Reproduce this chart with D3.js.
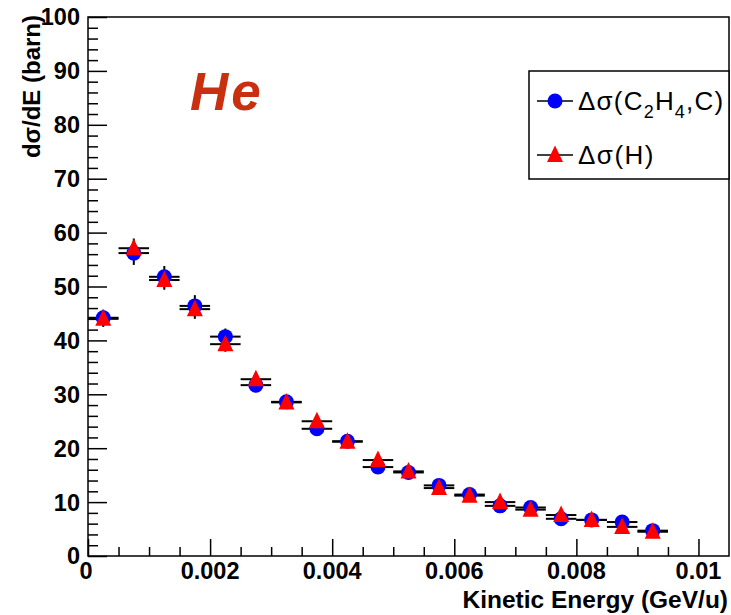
<!DOCTYPE html>
<html>
<head>
<meta charset="utf-8">
<script src="https://cdn.jsdelivr.net/npm/d3@7"></script>
<style>
  html, body { margin: 0; padding: 0; background: #fff; }
  svg { display: block; font-family: "Liberation Sans", Arial, Helvetica, sans-serif; }
</style>
</head>
<body>
<svg id="chart" width="731" height="615"></svg>
<script>
// Kinetic-energy bin centres (GeV/u), bin width 0.0005
const energy = [0.00025, 0.00075, 0.00125, 0.00175, 0.00225, 0.00275, 0.00325, 0.00375,
                0.00425, 0.00475, 0.00525, 0.00575, 0.00625, 0.00675, 0.00725, 0.00775,
                0.00825, 0.00875, 0.00925];
const binHalfWidth = 0.00025;

// Δσ(C2H4,C) and its errors (barn)
const sigmaCH = [44.2, 56.2, 51.8, 46.4, 40.7, 31.7, 28.6, 23.6, 21.3, 16.5,
                 15.5, 13.1, 11.4, 9.3, 9.0, 6.9, 6.7, 6.3, 4.7];
const errCH   = [1.5, 2.2, 2.0, 2.0, 1.5, 1.3, 1.0, 1.0, 0.9, 0.8,
                 0.7, 0.7, 0.6, 0.6, 0.5, 0.5, 0.5, 0.5, 0.4];

// Δσ(H) and its errors (barn)
const sigmaH  = [44.0, 57.1, 51.2, 45.8, 39.3, 32.8, 28.5, 25.0, 21.2, 17.8,
                 15.7, 12.6, 11.2, 10.0, 8.6, 7.6, 6.7, 5.4, 4.5];
const errH    = [1.5, 1.8, 1.8, 1.8, 1.4, 1.2, 1.0, 1.0, 0.9, 0.8,
                 0.7, 0.7, 0.6, 0.6, 0.5, 0.5, 0.5, 0.5, 0.4];

const xTicks = [0, 0.002, 0.004, 0.006, 0.008, 0.01];
const xTickLabels = ["0", "0.002", "0.004", "0.006", "0.008", "0.01"];
const yTicks = [0, 10, 20, 30, 40, 50, 60, 70, 80, 90, 100];

const svg = d3.select("#chart");
const frame = { left: 88, right: 729, top: 17, bottom: 556 };

const x = d3.scaleLinear().domain([0, 0.0105]).range([frame.left, frame.right]);
const y = d3.scaleLinear().domain([0, 100]).range([frame.bottom, frame.top]);

// Frame
svg.append("rect")
  .attr("x", frame.left).attr("y", frame.top)
  .attr("width", frame.right - frame.left).attr("height", frame.bottom - frame.top)
  .attr("fill", "none").attr("stroke", "#000").attr("stroke-width", 1.5);

// Y axis: major every 10, minor every 2, ticks pointing inward
const yMinor = d3.range(0, 101, 2).filter(v => v % 10 !== 0);
const yAxisMajor = d3.axisRight(y).tickValues(yTicks).tickSize(19).tickFormat("");
const yAxisMinor = d3.axisRight(y).tickValues(yMinor).tickSize(10).tickFormat("");
[yAxisMajor, yAxisMinor].forEach(ax => {
  const g = svg.append("g").attr("transform", `translate(${frame.left},0)`).call(ax);
  g.select(".domain").remove();
  g.selectAll("line").attr("stroke", "#000").attr("stroke-width", 1.5);
});

// X axis: major every 0.002, minor every 0.0005, ticks pointing up
const xMinor = d3.range(0, 21).map(i => i * 0.0005).filter((v, i) => i % 4 !== 0);
const xAxisMajor = d3.axisTop(x).tickValues(xTicks).tickSize(17).tickFormat("");
const xAxisMinor = d3.axisTop(x).tickValues(xMinor).tickSize(9).tickFormat("");
[xAxisMajor, xAxisMinor].forEach(ax => {
  const g = svg.append("g").attr("transform", `translate(0,${frame.bottom})`).call(ax);
  g.select(".domain").remove();
  g.selectAll("line").attr("stroke", "#000").attr("stroke-width", 1.5);
});

// Tick labels
const labelFont = 23.5;
svg.append("g").selectAll("text")
  .data(yTicks)
  .join("text")
  .attr("x", frame.left - 8)
  .attr("y", d => y(d))
  .attr("dy", "0.36em")
  .attr("text-anchor", "end")
  .attr("font-size", labelFont)
  .attr("font-weight", "bold")
  .text(d => d);

svg.append("g").selectAll("text")
  .data(xTicks)
  .join("text")
  .attr("x", (d, i) => i === 0 ? x(d) - 2 : x(d))
  .attr("y", frame.bottom + 23)
  .attr("text-anchor", "middle")
  .attr("font-size", labelFont)
  .attr("font-weight", "bold")
  .text((d, i) => xTickLabels[i]);

// Axis titles
svg.append("text")
  .attr("x", 728).attr("y", 608)
  .attr("text-anchor", "end")
  .attr("font-size", 24.5)
  .attr("font-weight", "bold")
  .text("Kinetic Energy (GeV/u)");

svg.append("text")
  .attr("transform", "translate(40,15) rotate(-90)")
  .attr("text-anchor", "end")
  .attr("font-size", 24)
  .attr("font-weight", "bold")
  .text("dσ/dE (barn)");

// Data series
const seriesCH = energy.map((e, i) => ({ e, v: sigmaCH[i], err: errCH[i] }));
const seriesH  = energy.map((e, i) => ({ e, v: sigmaH[i],  err: errH[i] }));

function drawErrors(data) {
  const g = svg.append("g").attr("stroke", "#000").attr("stroke-width", 2);
  g.selectAll("line.h").data(data).join("line")
    .attr("x1", d => x(d.e - binHalfWidth)).attr("x2", d => x(d.e + binHalfWidth))
    .attr("y1", d => y(d.v)).attr("y2", d => y(d.v));
  g.selectAll("line.v").data(data).join("line")
    .attr("x1", d => x(d.e)).attr("x2", d => x(d.e))
    .attr("y1", d => y(d.v - d.err)).attr("y2", d => y(d.v + d.err));
}
drawErrors(seriesCH);
drawErrors(seriesH);

const triangle = "M0,-9.5L8,7L-8,7Z";

svg.append("g").selectAll("circle").data(seriesCH).join("circle")
  .attr("cx", d => x(d.e)).attr("cy", d => y(d.v))
  .attr("r", 7.5).attr("fill", "#0000ff");

svg.append("g").selectAll("path").data(seriesH).join("path")
  .attr("transform", d => `translate(${x(d.e)},${y(d.v)})`)
  .attr("d", triangle).attr("fill", "#ff0000");

// Legend
const legend = svg.append("g");
legend.append("rect")
  .attr("x", 529).attr("y", 71).attr("width", 200).attr("height", 108)
  .attr("fill", "#fff").attr("stroke", "#000").attr("stroke-width", 1.5);

const entries = [
  { y: 101, kind: "circle" },
  { y: 155, kind: "triangle" }
];
entries.forEach(en => {
  legend.append("line")
    .attr("x1", 537).attr("x2", 573).attr("y1", en.y).attr("y2", en.y)
    .attr("stroke", "#000").attr("stroke-width", 1.5);
  if (en.kind === "circle") {
    legend.append("circle").attr("cx", 555).attr("cy", en.y).attr("r", 7.5).attr("fill", "#0000ff");
  } else {
    legend.append("path").attr("transform", `translate(555,${en.y})`).attr("d", triangle).attr("fill", "#ff0000");
  }
});

const t1 = legend.append("text").attr("x", 578).attr("y", 110)
  .attr("font-size", 26).attr("letter-spacing", 1.2);
t1.append("tspan").text("Δσ(C");
t1.append("tspan").attr("dy", 8).attr("font-size", 18).text("2");
t1.append("tspan").attr("dy", -8).text("H");
t1.append("tspan").attr("dy", 8).attr("font-size", 18).text("4");
t1.append("tspan").attr("dy", -8).text(",C)");

legend.append("text").attr("x", 578).attr("y", 164)
  .attr("font-size", 26).attr("letter-spacing", 1.5).text("Δσ(H)");

// Beam label
svg.append("text")
  .attr("x", 190).attr("y", 110)
  .attr("font-size", 53)
  .attr("font-weight", "bold")
  .attr("font-style", "italic")
  .attr("letter-spacing", 3)
  .attr("fill", "#c8300f")
  .text("He");
</script>
</body>
</html>
